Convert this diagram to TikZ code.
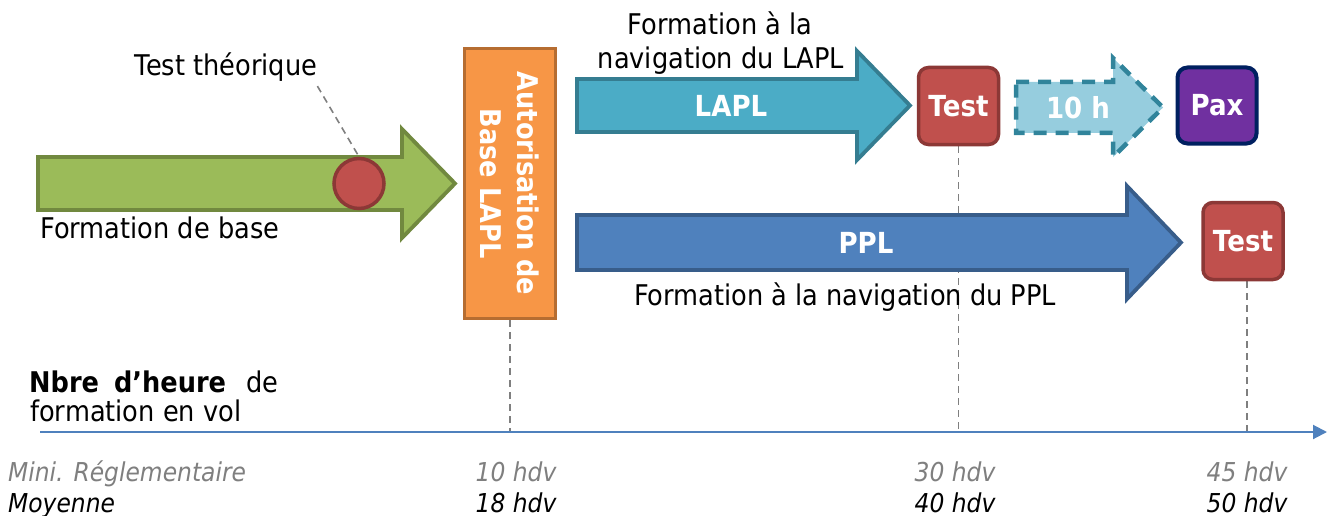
\documentclass[tikz,border=0pt]{standalone}
\usepackage{fontspec}
\setmainfont{DejaVu Sans}[FakeStretch=0.9]
\usetikzlibrary{arrows.meta,calc,backgrounds}
\definecolor{grfill}{HTML}{9BBB59}
\definecolor{grline}{HTML}{71893F}
\definecolor{rdfill}{HTML}{C0504D}
\definecolor{rdline}{HTML}{8C3836}
\definecolor{orfill}{HTML}{F79646}
\definecolor{orline}{HTML}{B66D31}
\definecolor{tlfill}{HTML}{4BACC6}
\definecolor{tlline}{HTML}{357D91}
\definecolor{blfill}{HTML}{4F81BD}
\definecolor{blline}{HTML}{385D8A}
\definecolor{ltfill}{HTML}{96CDDE}
\definecolor{ltline}{HTML}{31849B}
\definecolor{pufill}{HTML}{7030A0}
\definecolor{puline}{HTML}{002060}
\definecolor{guidegray}{HTML}{7F7F7F}
\definecolor{axisblue}{HTML}{4F81BD}
\begin{document}
\begin{tikzpicture}[x=1pt,y=-1pt,
  txt/.style={font=\fontsize{28.5}{35}\selectfont, inner sep=0pt, text=black},
  lbl/.style={font=\fontsize{29}{37}\selectfont\bfseries, text=white, inner sep=0pt},
  bot/.style={font=\fontsize{26}{32}\selectfont\itshape, inner sep=0pt},
  testbox/.style={rounded corners=10pt, line width=3.5pt, minimum width=80pt, minimum height=77pt, fill=rdfill, draw=rdline, lbl},
  guide/.style={draw=guidegray, line width=1.6pt, dash pattern=on 7pt off 5pt},
  arrowshape/.style={line width=3.8pt, line join=miter}
]
\useasboundingbox (0,0) rectangle (1327,516);

% green arrow (formation de base)
\draw[arrowshape, fill=grfill, draw=grline] (38,157) -- (402,157) -- (402,129) -- (455,183.5) -- (402,238) -- (402,210) -- (38,210) -- cycle;
\node[circle, fill=rdfill, draw=rdline, line width=3.5pt, minimum size=50pt, inner sep=0pt] (circ) at (359,183.5) {};
\node[txt, anchor=base] (tt) at (226,76) {Test théorique};
\draw[guide] ($(tt.south east)+(0,4)$) -- (circ.north);
\node[txt, anchor=base west] (fb) at (40,238) {Formation de base};

% orange box
\node[fill=orfill, draw=orline, line width=3.8pt, minimum width=91pt, minimum height=270pt] (auth) at (510,183.5) {};
\node[lbl, rotate=-90, align=center, font=\fontsize{28.5}{37}\selectfont\bfseries] (authtxt) at (auth.center) {Autorisation de\\Base LAPL};

% LAPL arrow
\draw[arrowshape, fill=tlfill, draw=tlline] (577,79) -- (857,79) -- (857,51) -- (910,105.5) -- (857,160) -- (857,132) -- (577,132) -- cycle;
\node[lbl, anchor=base] (lapl) at (731,117) {LAPL};
\node[txt, anchor=base] (flapl1) at (720,35) {Formation à la};
\node[txt, anchor=base] (flapl2) at (721,69) {navigation du LAPL};

% Test 1
\node[testbox] (t1) at (958.5,106) {Test};

% 10 h arrow
\draw[line width=4.5pt, fill=ltfill, draw=ltline, dash pattern=on 13pt off 9pt, line join=miter] (1016,82) -- (1113,82) -- (1113,58) -- (1163,107.5) -- (1113,157) -- (1113,133) -- (1016,133) -- cycle;
\node[lbl, anchor=base] (dix) at (1078,119) {10 h};

% Pax
\node[rounded corners=10pt, line width=4pt, minimum width=79pt, minimum height=76pt, fill=pufill, draw=puline, lbl] (pax) at (1217,105.5) {Pax};

% PPL arrow
\draw[arrowshape, fill=blfill, draw=blline] (577,215) -- (1127,215) -- (1127,186) -- (1181,242.5) -- (1127,299) -- (1127,270) -- (577,270) -- cycle;
\node[lbl, anchor=base] (ppl) at (866,253) {PPL};
\node[txt, anchor=base] (fppl) at (845,305) {Formation à la navigation du PPL};

% Test 2
\node[testbox] (t2) at (1243,241) {Test};

% axis
\coordinate (axs) at (40,432);
\coordinate (axe) at (1327,432);
\draw[draw=axisblue, line width=2pt, -{Triangle[length=14pt,width=14pt]}] (axs) -- (axe);

% guides (behind the arrows)
\coordinate (ax10) at (510,432);
\coordinate (ax30) at (958.5,432);
\coordinate (ax45) at (1247,432);
\begin{scope}[on background layer]
\draw[guide] (auth.south) -- (ax10);
\draw[guide] (t1.south) -- (ax30);
\draw[guide] (t2.south -| ax45) -- (ax45);
\end{scope}

% axis title
\node[txt, anchor=base west] (nbre) at (29,392) {\textbf{Nbre}\hspace{15pt}\textbf{d’heure}\hspace{20pt}de};
\node[txt, anchor=base west] (fvol) at (30,421) {formation en vol};

% bottom labels
\node[bot, anchor=base west, text=guidegray] (mini) at (8,481) {Mini. Réglementaire};
\node[bot, anchor=base west, text=black] (moy) at (8,512) {Moyenne};
\node[bot, anchor=base, text=guidegray] (h10) at (516,481) {10 hdv};
\node[bot, anchor=base, text=black] (h18) at (516,512) {18 hdv};
\node[bot, anchor=base, text=guidegray] (h30) at (955,481) {30 hdv};
\node[bot, anchor=base, text=black] (h40) at (955,512) {40 hdv};
\node[bot, anchor=base, text=guidegray] (h45) at (1247,481) {45 hdv};
\node[bot, anchor=base, text=black] (h50) at (1247,512) {50 hdv};
\end{tikzpicture}
\end{document}
